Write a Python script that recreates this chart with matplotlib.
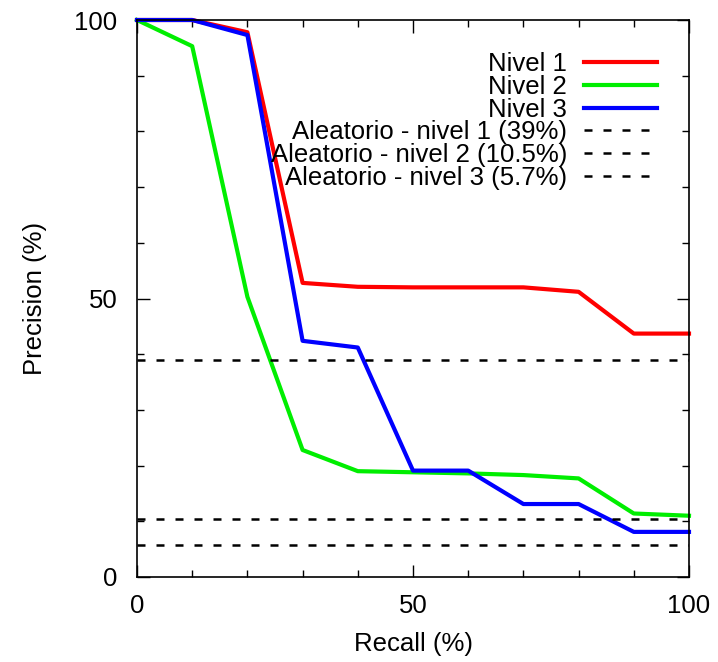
import matplotlib.pyplot as plt
import numpy as np
from matplotlib.ticker import MultipleLocator

plt.rcParams['font.family'] = ['Liberation Sans', 'DejaVu Sans']

recall = [0, 10, 20, 30, 40, 50, 60, 70, 80, 90, 100]
nivel1 = [100, 100, 97.8, 52.8, 52.1, 52.0, 52.0, 52.0, 51.2, 43.7, 43.7]
nivel2 = [100, 95.3, 50.3, 22.8, 19.0, 18.8, 18.6, 18.3, 17.7, 11.4, 11.0]
nivel3 = [100, 100, 97.3, 42.4, 41.2, 19.1, 19.1, 13.1, 13.1, 8.1, 8.1]

random_labels = ['Aleatorio - nivel 1 (39%)',
                 'Aleatorio - nivel 2 (10.5%)',
                 'Aleatorio - nivel 3 (5.7%)']
random_values = [39, 10.5, 5.7]

fs = 18.5

fig = plt.figure(figsize=(7.18, 6.62), dpi=100)
ax = fig.add_axes([137 / 718, 85 / 662, 552 / 718, 557 / 662])

ax.plot(recall, nivel1, color='#ff0000', lw=3, label='Nivel 1', clip_on=False)
ax.plot(recall, nivel2, color='#00ee00', lw=3, label='Nivel 2', clip_on=False)
ax.plot(recall, nivel3, color='#0000ff', lw=3, label='Nivel 3', clip_on=False)
for lab, val in zip(random_labels, random_values):
    ax.plot([0, 100], [val, val], color='black', lw=1.8, dashes=(3.2, 4.4), label=lab)

ax.set_xlim(0, 100)
ax.set_ylim(0, 100)
ax.xaxis.set_major_locator(MultipleLocator(50))
ax.yaxis.set_major_locator(MultipleLocator(50))
ax.xaxis.set_minor_locator(MultipleLocator(10))
ax.yaxis.set_minor_locator(MultipleLocator(10))
ax.tick_params(which='both', direction='in', top=True, right=True, width=1, labelsize=fs)
ax.tick_params(which='major', length=9)
ax.tick_params(which='minor', length=5)
ax.tick_params(axis='y', pad=14)
ax.tick_params(axis='x', pad=12)
for s in ax.spines.values():
    s.set_linewidth(1.2)

ax.set_xlabel('Recall (%)', fontsize=fs, labelpad=10)
ax.set_ylabel('Precision (%)', fontsize=fs, labelpad=20)

ax.legend(loc='upper right', frameon=False, markerfirst=False, fontsize=fs,
          handlelength=2.85, handletextpad=0.65, labelspacing=-0.05,
          borderaxespad=0.85, borderpad=0.4)

fig.savefig('out.png')
